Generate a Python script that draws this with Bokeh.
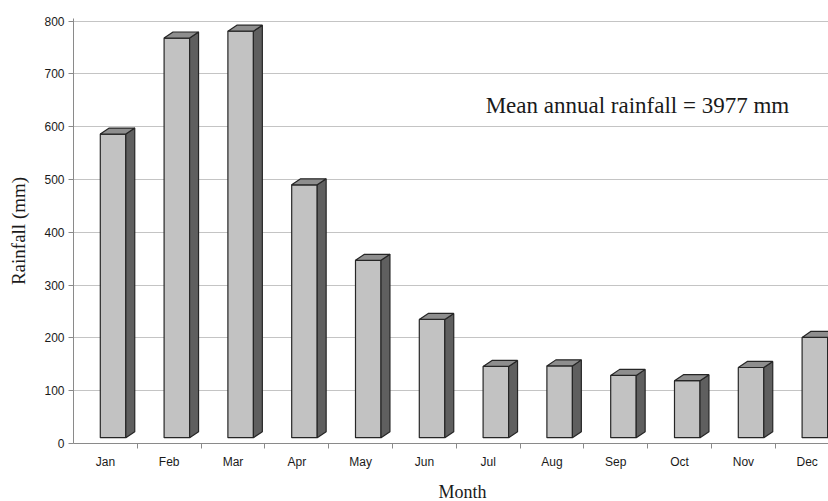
from bokeh.plotting import figure
from bokeh.models import Range1d, FixedTicker, Label, Title
from bokeh.embed import file_html
from bokeh.resources import INLINE

# ---- data ----
months = ["Jan", "Feb", "Mar", "Apr", "May", "Jun",
          "Jul", "Aug", "Sep", "Oct", "Nov", "Dec"]
rainfall = [586, 768, 781, 490, 347, 235, 146, 147, 129, 119, 144, 201]
y_ticks = [0, 100, 200, 300, 400, 500, 600, 700, 800]
annotation = "Mean annual rainfall = 3977 mm"

# ---- style (3D look) ----
front_off = 0.42   # front face left offset within category
front_w = 0.40     # front face width (category units)
dx = 0.14          # depth offset x (category units)
dy = 11.4          # depth offset y (data units)
base = 11.0        # front face bottom (data units)

p = figure(width=828, height=501, output_backend="svg", toolbar_location=None,
           frame_width=755, frame_height=425,
           x_range=Range1d(0, 755 / 63.8), y_range=Range1d(0, 805))
p.min_border_left = 73
p.min_border_right = 0
p.min_border_top = 18
p.min_border_bottom = 58
p.outline_line_color = None
p.background_fill_color = "white"
p.border_fill_color = "white"

# grid
p.xgrid.grid_line_color = None
p.ygrid.grid_line_color = "#c4c4c4"
p.ygrid.grid_line_width = 1
p.ygrid.ticker = FixedTicker(ticks=y_ticks)

# y axis
p.yaxis.ticker = FixedTicker(ticks=y_ticks)
p.yaxis.axis_line_color = "#8a8a8a"
p.yaxis.major_tick_line_color = "#8a8a8a"
p.yaxis.major_tick_out = 5
p.yaxis.major_tick_in = 0
p.yaxis.minor_tick_line_color = None
p.yaxis.major_label_text_font = "Liberation Sans"
p.yaxis.major_label_text_font_size = "12px"
p.yaxis.major_label_text_color = "#1a1a1a"
p.yaxis.major_label_standoff = 4
p.yaxis.axis_label = "Rainfall (mm)"
p.yaxis.axis_label_text_font = "Liberation Serif"
p.yaxis.axis_label_text_font_style = "normal"
p.yaxis.axis_label_text_font_size = "19px"
p.yaxis.axis_label_text_color = "#1a1a1a"
p.yaxis.axis_label_standoff = 12

# x axis: labels at category centres, ticks at boundaries
centers = [i + 0.5 for i in range(len(months))]
bounds = [i + 1 for i in range(len(months))]
p.xaxis.ticker = FixedTicker(ticks=centers, minor_ticks=bounds)
p.xaxis.major_label_overrides = {c: m for c, m in zip(centers, months)}
p.xaxis.axis_line_color = "#8a8a8a"
p.xaxis.major_tick_line_color = None
p.xaxis.major_tick_out = 0
p.xaxis.major_tick_in = 0
p.xaxis.minor_tick_line_color = "#8a8a8a"
p.xaxis.minor_tick_out = 5
p.xaxis.minor_tick_in = 0
p.xaxis.major_label_text_font = "Liberation Sans"
p.xaxis.major_label_text_font_size = "12px"
p.xaxis.major_label_text_color = "#1a1a1a"
p.xaxis.major_label_standoff = 6

# bars
lefts = [i + front_off for i in range(len(months))]
rights = [l + front_w for l in lefts]
p.quad(left=lefts, right=rights, bottom=[base] * len(months), top=rainfall,
       fill_color="#c2c2c2", line_color="#262626", line_width=1.2)

side_xs, side_ys, top_xs, top_ys = [], [], [], []
for l, r, t in zip(lefts, rights, rainfall):
    side_xs.append([r, r + dx, r + dx, r])
    side_ys.append([base, base + dy, t + dy, t])
    top_xs.append([l, l + dx, r + dx, r])
    top_ys.append([t, t + dy, t + dy, t])
p.patches(side_xs, side_ys, fill_color="#5f5f5f", line_color="#262626", line_width=1.2)
p.patches(top_xs, top_ys, fill_color="#8e8e8e", line_color="#262626", line_width=1.2)

# annotation
p.add_layout(Label(x=6.46, y=641, text=annotation, text_font="Liberation Serif",
                   text_font_size="23px", text_color="#1a1a1a",
                   text_align="left", text_baseline="alphabetic"))

# x axis title
p.add_layout(Title(text="Month", align="left", offset=365, standoff=17,
                   text_font="Liberation Serif", text_font_size="18px",
                   text_font_style="normal", text_color="#1a1a1a"), "below")

open("out.html", "w").write(file_html(p, INLINE))
